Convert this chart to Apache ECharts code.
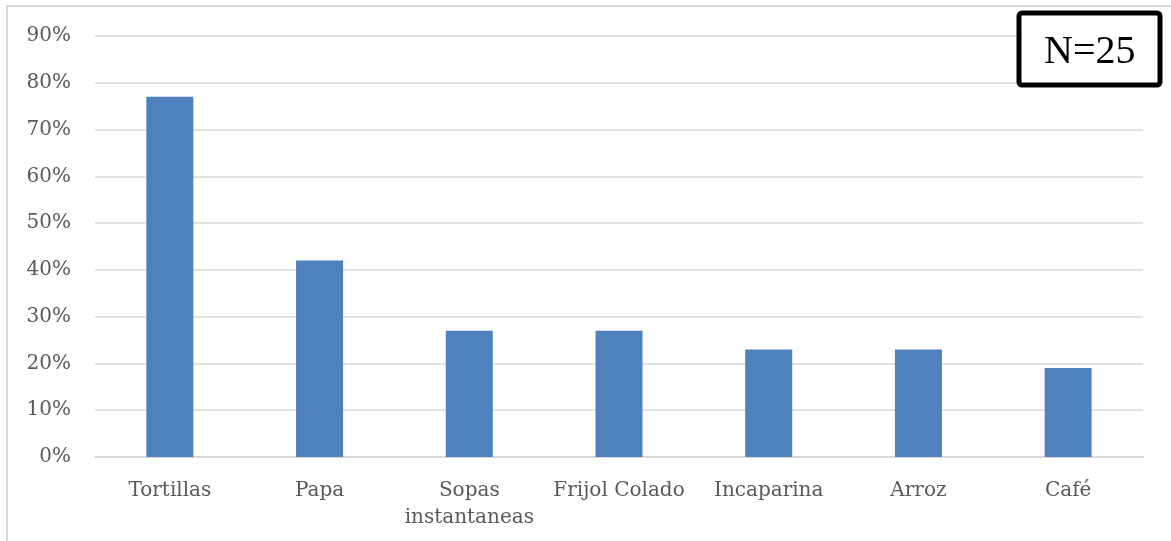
<!DOCTYPE html>
<html>
<head>
<meta charset="utf-8">
<script src="https://cdn.jsdelivr.net/npm/echarts@6/dist/echarts.min.js"></script>
<style>
  html, body { margin: 0; padding: 0; background: #fff; }
  #chart { width: 1171px; height: 541px; }
</style>
</head>
<body>
<div id="chart"></div>
<script>
// alimentos consumidos (% de hogares)
var categories = ['Tortillas', 'Papa', 'Sopas\ninstantaneas', 'Frijol Colado', 'Incaparina', 'Arroz', 'Café'];
var values = [77, 42, 27, 27, 23, 23, 19];
var yTicks = [0, 10, 20, 30, 40, 50, 60, 70, 80, 90];
var sampleLabel = 'N=25';

var labelFont = 'DejaVu Serif';
var chart = echarts.init(document.getElementById('chart'));

chart.setOption({
  animation: false,
  grid: { left: 95, right: 28, top: 36, bottom: 84 },
  xAxis: {
    type: 'category',
    data: categories,
    axisTick: { show: false },
    axisLine: { lineStyle: { color: '#d9d9d9', width: 2 } },
    axisLabel: { color: '#595959', fontFamily: labelFont, fontSize: 20, margin: 20, lineHeight: 27, interval: 0 }
  },
  yAxis: {
    type: 'value',
    min: yTicks[0],
    max: yTicks[yTicks.length - 1],
    interval: 10,
    axisLine: { show: false },
    axisTick: { show: false },
    splitLine: { lineStyle: { color: '#d9d9d9', width: 1.5 } },
    axisLabel: {
      color: '#595959', fontFamily: labelFont, fontSize: 20, margin: 24,
      formatter: function (v) { return v + '%'; }
    }
  },
  series: [{
    type: 'bar',
    data: values,
    barWidth: 47,
    itemStyle: { color: '#4f81bd' }
  }],
  graphic: [
    {
      type: 'rect', z: -1,
      shape: { x: 7, y: 6, width: 1200, height: 600 },
      style: { fill: 'none', stroke: '#d9d9d9', lineWidth: 2 }
    },
    {
      type: 'rect', z: 100,
      shape: { x: 1019, y: 13, width: 141, height: 72, r: 3 },
      style: { fill: '#fff', stroke: '#000', lineWidth: 5 }
    },
    {
      type: 'text', z: 101,
      left: 1089 - 45, top: 32,
      style: { text: sampleLabel, fontFamily: 'Liberation Serif', fontSize: 40, fill: '#000', width: 90, align: 'center' }
    }
  ]
});
</script>
</body>
</html>
